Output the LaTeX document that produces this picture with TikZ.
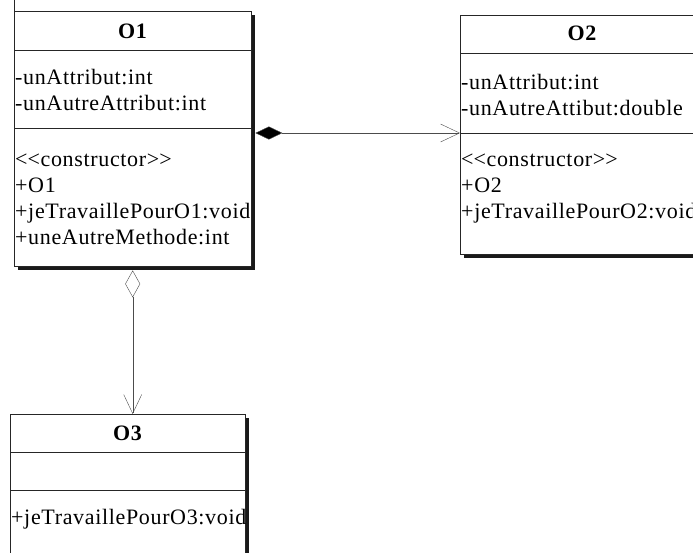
\documentclass[tikz,border=0pt]{standalone}
\usepackage{fontspec}
\setmainfont{Liberation Serif}[LetterSpace=3]
\usetikzlibrary{arrows.meta,shadows}

\begin{document}
\begin{tikzpicture}[
        x=1pt, y=-1pt,
        every node/.style={inner sep=0pt, font=\fontsize{22}{26}\selectfont},
        classe/.style={draw=black!85, fill=white, anchor=north west,
            drop shadow={shadow xshift=4pt, shadow yshift=-4pt, fill=black!90, opacity=1}},
        titre/.style={font=\fontsize{22}{26}\selectfont\bfseries},
        texte/.style={anchor=base west, align=left},
        separateur/.style={draw=black!85},
        compo/.style={{Diamond[length=27pt,width=13pt,fill=black]}-{Straight Barb[length=19pt,width=18pt]}, draw=black!70, shorten <=4pt},
        agreg/.style={{Diamond[open,length=27pt,width=15pt]}-{Straight Barb[length=19pt,width=18pt]}, draw=black!70, shorten <=4pt}
    ]
    \clip (0,0) rectangle (693,552);
    \fill[white] (0,0) rectangle (693,552);

    % classes
    \node[classe, minimum width=237pt, minimum height=255pt] (o1) at (14,11) {};
    \node[classe, minimum width=244pt, minimum height=239pt] (o2) at (460,15) {};
    \node[classe, minimum width=235pt, minimum height=160pt] (o3) at (10,414) {};
    \draw[separateur] (o1.north west) -- ++(0,-11);

    \draw[separateur] (14,50) -- ++(237,0);
    \draw[separateur] (14,128) -- ++(237,0);
    \draw[separateur] (460,53) -- ++(244,0);
    \draw[separateur] (460,133) -- ++(244,0);
    \draw[separateur] (10,452) -- ++(235,0);
    \draw[separateur] (10,490) -- ++(235,0);

    % texts (base = last line)
    \node[titre] (o1titre) at (132.5,31) {O1};
    \node[texte] (o1attr) at (15,110) {-unAttribut:int\\-unAutreAttribut:int};
    \node[texte] (o1meth) at (15,244) {<\kern0pt<constructor>\kern0pt>\\+O1\\+jeTravaillePourO1:void\\+uneAutreMethode:int};

    \node[titre] (o2titre) at (582,33) {O2};
    \node[texte] (o2attr) at (461,115) {-unAttribut:int\\-unAutreAttibut:double};
    \node[texte] (o2meth) at (461,218) {<\kern0pt<constructor>\kern0pt>\\+O2\\+jeTravaillePourO2:void};

    \node[titre] (o3titre) at (127.5,433) {O3};
    \node[texte] (o3meth) at (11,524) {+jeTravaillePourO3:void};

    % relations
    \coordinate (o2sep) at (460,133);
    \draw[compo] (o1.east |- o2sep) -- (o2sep);
    \draw[agreg] (o1.south) -- (o1.south |- o3.north);
\end{tikzpicture}
\end{document}
